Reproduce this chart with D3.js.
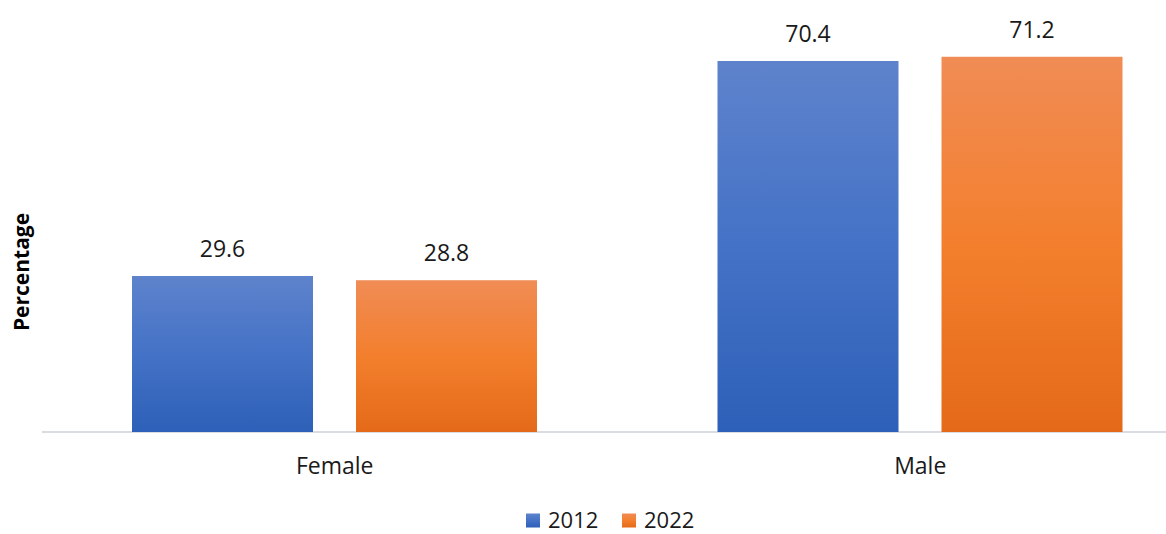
<!DOCTYPE html>
<html><head><meta charset="utf-8">
<script src="https://cdn.jsdelivr.net/npm/d3@7/dist/d3.min.js"></script>
<style>html,body{margin:0;padding:0;background:#fff;}svg{display:block;font-family:"Open Sans",sans-serif;}</style>
</head><body>
<svg id="chart" width="1166" height="534"></svg>
<script>
const categories = ["Female", "Male"];
const years = ["2012", "2022"];
const values2012 = [29.6, 70.4];
const values2022 = [28.8, 71.2];
const yTitle = "Percentage";

const seriesValues = {"2012": values2012, "2022": values2022};
const data = categories.map((c, i) => ({cat: c, vals: years.map(y => ({year: y, v: seriesValues[y][i]}))}));

const svg = d3.select("#chart");
const baseY = 432;
const y = d3.scaleLinear().domain([0, 80]).range([baseY, baseY - 80 * 5.27]);
const x0 = d3.scaleBand().domain(categories).range([42, 1213]).padding(0);
const x1 = d3.scaleBand().domain(years).range([90, 495]).paddingInner(0.192).paddingOuter(0);

const defs = svg.append("defs");
const grads = {
  "2012": [["0%", "#5e83cc"], ["50%", "#4472c6"], ["100%", "#2d60b8"]],
  "2022": [["0%", "#f08c55"], ["50%", "#f37f2d"], ["100%", "#e46a19"]]
};
years.forEach(yr => {
  const g = defs.append("linearGradient").attr("id", "g" + yr)
    .attr("x1", 0).attr("y1", 0).attr("x2", 0).attr("y2", 1);
  grads[yr].forEach(s => g.append("stop").attr("offset", s[0]).attr("stop-color", s[1]));
});

// axis line
const xAxis = d3.axisBottom(x0).tickSize(0).tickPadding(26);
const ax = svg.append("g").attr("transform", `translate(0,${baseY})`).call(xAxis);
ax.select(".domain").attr("stroke", "#d9dce3").attr("stroke-width", 2).attr("d", "M42,0H1166");
ax.selectAll("text").attr("font-size", 23).attr("fill", "#1a1a1a").attr("font-family", "Open Sans, sans-serif");

const groups = svg.append("g").selectAll("g").data(data).join("g")
  .attr("transform", d => `translate(${x0(d.cat)},0)`);

groups.selectAll("rect").data(d => d.vals).join("rect")
  .attr("x", d => x1(d.year))
  .attr("width", x1.bandwidth())
  .attr("y", d => y(d.v))
  .attr("height", d => baseY - y(d.v))
  .attr("fill", d => `url(#g${d.year})`);

groups.selectAll("text.lbl").data(d => d.vals).join("text")
  .attr("class", "lbl")
  .attr("x", d => x1(d.year) + x1.bandwidth() / 2)
  .attr("y", d => y(d.v) - 19)
  .attr("text-anchor", "middle")
  .attr("font-size", 23)
  .attr("fill", "#1a1a1a")
  .text(d => d.v.toFixed(1));

// y title
svg.append("text")
  .attr("transform", "translate(28.5,272) rotate(-90)")
  .attr("text-anchor", "middle")
  .attr("font-size", 21)
  .attr("font-weight", "bold")
  .attr("fill", "#000")
  .text(yTitle);

// legend
const legendX = [526, 622];
const lg = svg.append("g").selectAll("g").data(years).join("g")
  .attr("transform", (d, i) => `translate(${legendX[i]},513.5)`);
lg.append("rect").attr("width", 14).attr("height", 14).attr("fill", d => `url(#g${d})`);
lg.append("text").attr("x", 22).attr("y", 14).attr("font-size", 22).attr("fill", "#1a1a1a").text(d => d);
</script>
</body></html>
